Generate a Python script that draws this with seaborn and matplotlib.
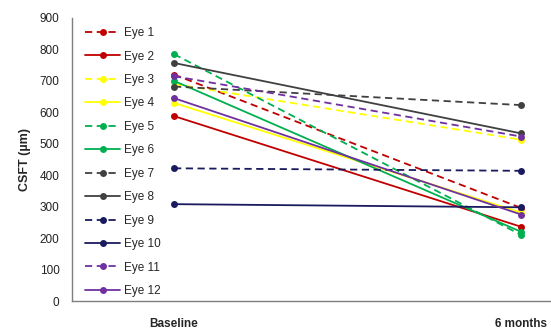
import matplotlib
matplotlib.use("Agg")
import matplotlib.pyplot as plt
import seaborn as sns
import pandas as pd
from matplotlib.lines import Line2D

timepoints = ["Baseline", "6 months"]
eyes = [f"Eye {i}" for i in range(1, 13)]
baseline = [720, 588, 690, 630, 785, 700, 682, 757, 422, 308, 715, 645]
six_months = [296, 236, 513, 281, 210, 220, 623, 533, 414, 298, 523, 275]
colors = ["#C00000", "#C00000", "#FFFF00", "#FFFF00", "#00B050", "#00B050",
          "#404040", "#404040", "#1A1A5E", "#1A1A5E", "#7030A0", "#7030A0"]
dashed = [True, False] * 6

rows = []
for e, b, s in zip(eyes, baseline, six_months):
    rows.append({"Eye": e, "t": 0, "CSFT": b})
    rows.append({"Eye": e, "t": 1, "CSFT": s})
df = pd.DataFrame(rows)

sns.set_style("white")
plt.rcParams["font.family"] = ["Liberation Sans", "DejaVu Sans"]

fig = plt.figure(figsize=(5.51, 3.35), dpi=100)
ax = fig.add_axes([72/551, 1 - 301/335, 479/551, 283/335])

palette = dict(zip(eyes, colors))
dashes = {e: ((4, 2.5) if d else "") for e, d in zip(eyes, dashed)}
markers = {e: "o" for e in eyes}
sns.lineplot(data=df, x="t", y="CSFT", hue="Eye", style="Eye", palette=palette,
             dashes=dashes, markers=markers, markersize=5, markeredgewidth=0,
             linewidth=1.3, ax=ax, legend=False)

ax.set_xlim(-0.294, 1.086)
ax.set_ylim(0, 900)
ax.set_yticks(range(0, 901, 100))
ax.set_xticks([0, 1])
ax.set_xticklabels(timepoints, fontweight="bold", fontsize=8.5)
ax.tick_params(axis="y", labelsize=8.5, length=0, pad=9, colors="#222222")
ax.tick_params(axis="x", length=0, pad=12)
ax.set_xlabel("")
ax.set_ylabel("CSFT (µm)", fontweight="bold", fontsize=9, labelpad=6)
for sp in ["top", "right"]:
    ax.spines[sp].set_visible(False)
for sp in ["left", "bottom"]:
    ax.spines[sp].set_color("#7f7f7f")
    ax.spines[sp].set_linewidth(1.0)

handles = [Line2D([0], [0], color=c, lw=1.3, ls=((0, (4, 2.5)) if d else "-"),
                  marker="o", markersize=5, markeredgewidth=0)
           for c, d in zip(colors, dashed)]
ax.legend(handles, eyes, loc="upper left", bbox_to_anchor=(0.012, 0.993), frameon=False,
          fontsize=8.5, labelspacing=0.97, handlelength=3.0, handletextpad=0.3,
          borderaxespad=0.2)

fig.savefig("out.png", dpi=100)
